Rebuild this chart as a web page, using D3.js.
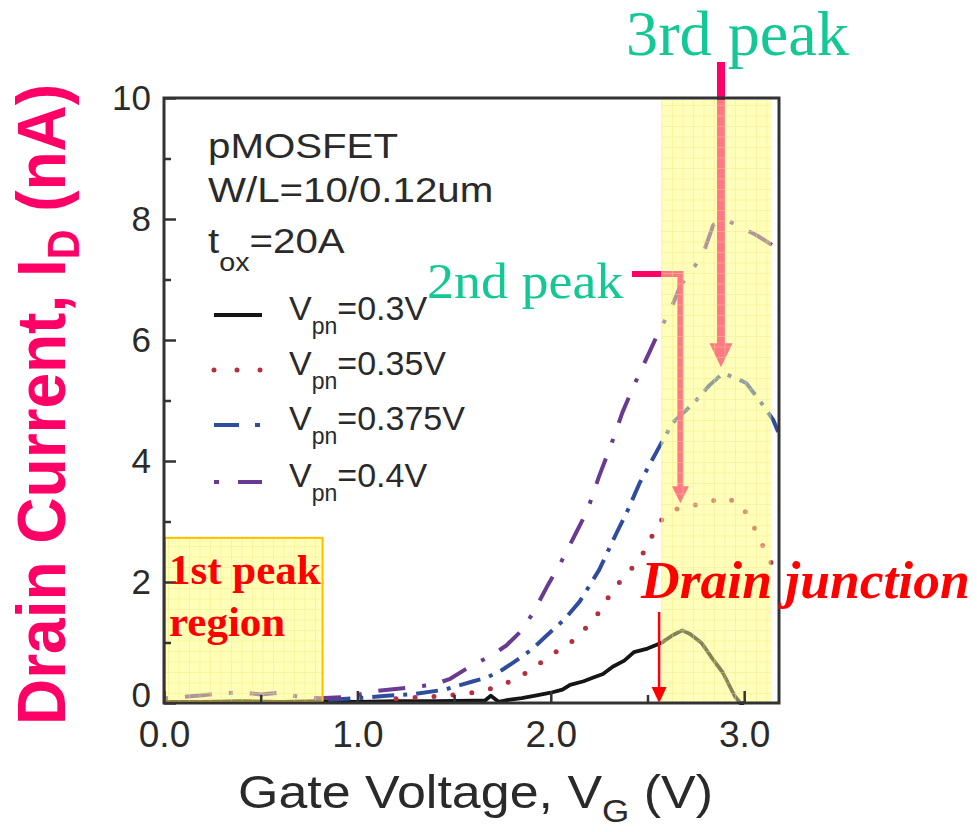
<!DOCTYPE html>
<html>
<head>
<meta charset="utf-8">
<script src="https://cdn.jsdelivr.net/npm/d3@7/dist/d3.min.js"></script>
<style>
body{margin:0;background:#fff}
svg{display:block}
</style>
</head>
<body>
<div id="chart"></div>
<script>

// data: [gate voltage V, drain current nA]
var vpn030 = [[0,0.02],[0.2,0.02],[0.4,0.03],[0.6,0.02],[0.8,0.03],[1.0,0.02],[1.2,0.03],[1.4,0.03],[1.6,0.04],[1.66,0.04],[1.69,0.12],[1.73,0.02],[1.78,0.05],[1.85,0.08],[1.92,0.12],[2.0,0.17],[2.06,0.22],[2.1,0.3],[2.17,0.36],[2.22,0.42],[2.27,0.48],[2.32,0.6],[2.38,0.7],[2.43,0.84],[2.5,0.9],[2.57,0.99],[2.63,1.12],[2.68,1.2],[2.72,1.14],[2.78,0.99],[2.83,0.76],[2.89,0.5],[2.95,0.12],[2.98,0.0],[3.0,0.0]];
var vpn035 = [[1.2,0.07],[1.3,0.09],[1.45,0.12],[1.55,0.15],[1.62,0.18],[1.72,0.26],[1.83,0.41],[1.92,0.6],[2.01,0.81],[2.1,0.99],[2.19,1.27],[2.26,1.54],[2.32,1.87],[2.4,2.15],[2.47,2.43],[2.52,2.74],[2.58,3.06],[2.67,3.24],[2.79,3.29],[2.89,3.4],[2.98,3.3],[3.04,2.98],[3.09,2.64],[3.14,2.31],[3.18,2.05]];
var vpn0375 = [[0.85,0.05],[1.0,0.08],[1.15,0.12],[1.3,0.15],[1.45,0.22],[1.6,0.36],[1.67,0.42],[1.75,0.55],[1.83,0.72],[1.9,0.88],[1.98,1.12],[2.07,1.38],[2.15,1.68],[2.25,2.2],[2.34,2.81],[2.4,3.2],[2.46,3.64],[2.56,4.23],[2.63,4.63],[2.74,4.96],[2.82,5.25],[2.89,5.45],[2.95,5.38],[3.01,5.29],[3.08,5.0],[3.15,4.68],[3.18,4.45]];
var vpn040 = [[0.0,0.08],[0.1,0.1],[0.2,0.13],[0.3,0.16],[0.4,0.18],[0.5,0.14],[0.6,0.17],[0.7,0.1],[0.8,0.08],[0.95,0.1],[1.1,0.2],[1.25,0.25],[1.39,0.3],[1.48,0.4],[1.58,0.6],[1.69,0.78],[1.77,0.95],[1.85,1.2],[1.91,1.5],[1.98,1.92],[2.05,2.31],[2.13,2.81],[2.19,3.19],[2.25,3.75],[2.31,4.25],[2.37,4.8],[2.43,5.25],[2.51,5.8],[2.56,6.15],[2.62,6.5],[2.67,6.9],[2.72,7.1],[2.79,7.45],[2.84,7.9],[2.9,8.0],[2.96,7.9],[3.06,7.74],[3.13,7.6],[3.18,7.5]];

var seriesNames = ["0.3V", "0.35V", "0.375V", "0.4V"];
var xTickValues = [0, 1, 2, 3],
    xMinorTicks = [0.5, 1.5, 2.5],
    yTickValues = [0, 2, 4, 6, 8, 10],
    yMinorTicks = [1, 3, 5, 7, 9];

var width = 977,
    height = 832;

var x = d3.scaleLinear().domain([0, 3.18]).range([164, 779]);
var y = d3.scaleLinear().domain([0, 10]).range([703, 98]);

var styles = [
    {color: "#151515", w: 3.8, dash: null, cap: "butt"},
    {color: "#b23040", w: 5, dash: "0 19", cap: "round"},
    {color: "#2f4d9c", w: 4, dash: "22 9 4 9", cap: "butt"},
    {color: "#6a3a90", w: 4, dash: "4 17 27 17", cap: "butt"}
];
var allSeries = [vpn030, vpn035, vpn0375, vpn040];

var pink = "#ff0066", teal = "#14c896";

var svg = d3.select("#chart").append("svg")
    .attr("width", width)
    .attr("height", height);

var defs = svg.append("defs");
var pat = defs.append("pattern")
    .attr("id", "grid")
    .attr("patternUnits", "userSpaceOnUse")
    .attr("width", 10.5)
    .attr("height", 10.5);
pat.append("path")
    .attr("d", "M0,0.5H10.5M0.5,0V10.5")
    .attr("stroke", "#eee27a")
    .attr("stroke-width", 1)
    .attr("fill", "none");

// highlighted regions (base fill under the curves)
var hl = {v0: 2.57, v1: 3.14};
var firstPeak = {v0: 0, v1: 0.82, i1: 2.73};

var back = svg.append("g");
back.append("rect")
    .attr("x", x(hl.v0)).attr("y", y(10) + 2)
    .attr("width", x(hl.v1) - x(hl.v0)).attr("height", y(0) - y(10) - 2)
    .attr("fill", "#ffffcc");
back.append("rect")
    .attr("x", x(firstPeak.v0)).attr("y", y(firstPeak.i1))
    .attr("width", x(firstPeak.v1) - x(firstPeak.v0)).attr("height", y(0) - y(firstPeak.i1))
    .attr("fill", "#ffffc6");

// curves
var line = d3.line().x(function(d){return x(d[0])}).y(function(d){return y(d[1])});
var curves = svg.append("g");
allSeries.forEach(function(s, i){
    curves.append("path")
        .attr("d", line(s))
        .attr("fill", "none")
        .attr("stroke", styles[i].color)
        .attr("stroke-width", styles[i].w)
        .attr("stroke-dasharray", styles[i].dash)
        .attr("stroke-linecap", styles[i].cap)
        .attr("stroke-linejoin", "round");
});

// pink peak arrows (drawn under the yellow overlay)
function arrowPath(cx, y0, yTip, sw, hw, hh){
    return "M" + (cx - sw/2) + "," + y0 + "L" + (cx + sw/2) + "," + y0 +
        "L" + (cx + sw/2) + "," + (yTip - hh) + "L" + (cx + hw/2) + "," + (yTip - hh) +
        "L" + cx + "," + yTip + "L" + (cx - hw/2) + "," + (yTip - hh) +
        "L" + (cx - sw/2) + "," + (yTip - hh) + "Z";
}
var arrows = svg.append("g");
// 3rd peak
arrows.append("path")
    .attr("d", arrowPath(x(2.88), 62, y(5.55), 8, 23, 24))
    .attr("fill", pink);
// 2nd peak
arrows.append("rect")
    .attr("x", 632).attr("y", 271)
    .attr("width", x(2.67) + 3 - 632).attr("height", 6)
    .attr("fill", pink);
arrows.append("path")
    .attr("d", arrowPath(x(2.67), 271, y(3.3), 6, 17, 17))
    .attr("fill", pink);

// overlays
var over = svg.append("g");
[[x(hl.v0), y(10) + 2, x(hl.v1) - x(hl.v0), y(0) - y(10) - 2],
 [x(firstPeak.v0), y(firstPeak.i1), x(firstPeak.v1) - x(firstPeak.v0), y(0) - y(firstPeak.i1)]]
.forEach(function(r){
    over.append("rect").attr("x", r[0]).attr("y", r[1]).attr("width", r[2]).attr("height", r[3])
        .attr("fill", "#ffffa8").attr("opacity", 0.47);
    over.append("rect").attr("x", r[0]).attr("y", r[1]).attr("width", r[2]).attr("height", r[3])
        .attr("fill", "url(#grid)").attr("opacity", 0.4);
});
over.append("rect")
    .attr("x", x(firstPeak.v0) + 1).attr("y", y(firstPeak.i1))
    .attr("width", x(firstPeak.v1) - x(firstPeak.v0) - 1).attr("height", y(0) - y(firstPeak.i1) - 1)
    .attr("fill", "none")
    .attr("stroke", "#ffbf00")
    .attr("stroke-width", 2);

// axes
var axisFont = "'Liberation Sans', Arial, sans-serif";
var gy = svg.append("g").attr("transform", "translate(" + x(0) + ",0)")
    .call(d3.axisLeft(y).tickValues(yTickValues).tickFormat(d3.format("d")).tickSize(-12).tickPadding(13));
svg.append("g").attr("transform", "translate(" + x(0) + ",0)")
    .call(d3.axisLeft(y).tickValues(yMinorTicks).tickFormat("").tickSize(-7));
var gx = svg.append("g").attr("transform", "translate(0," + y(0) + ")")
    .call(d3.axisBottom(x).tickValues(xTickValues).tickFormat(d3.format(".1f")).tickSize(-12).tickPadding(18));
svg.append("g").attr("transform", "translate(0," + y(0) + ")")
    .call(d3.axisBottom(x).tickValues(xMinorTicks).tickFormat("").tickSize(-8));
svg.selectAll(".domain").remove();
svg.selectAll(".tick line").attr("stroke", "#333").attr("stroke-width", 2.5);
gy.selectAll("text").attr("font-size", 35).attr("font-family", axisFont).attr("fill", "#2a2a2a");
gy.selectAll(".tick").filter(function(d){return d === 0}).select("text").attr("dy", "0.1em");
gx.selectAll("text").attr("font-size", 37).attr("font-family", axisFont).attr("fill", "#2a2a2a");

svg.append("rect")
    .attr("x", x(0)).attr("y", y(10))
    .attr("width", x.range()[1] - x(0)).attr("height", y(0) - y(10))
    .attr("fill", "none")
    .attr("stroke", "#333")
    .attr("stroke-width", 3);

// text with subscripts, optionally stretched horizontally
function addText(parent, tx, ty, sx, size, pieces, opt){
    opt = opt || {};
    var g = parent.append("g").attr("transform", "translate(" + tx + "," + ty + ") scale(" + sx + ",1)");
    var t = g.append("text")
        .attr("font-size", size)
        .attr("font-family", opt.family || axisFont)
        .attr("font-weight", opt.weight || "normal")
        .attr("font-style", opt.style || "normal")
        .attr("fill", opt.fill || "#2a2a2a");
    pieces.forEach(function(p){
        var ts = t.append("tspan").text(p[0]);
        if (p[1]) {
            ts.attr("font-size", p[1]).attr("dy", p[2]);
        } else if (p[2]) {
            ts.attr("dy", p[2]);
        }
    });
    return g;
}

// legend block
var legend = svg.append("g");
addText(legend, 208, 158, 1.15, 35, [["pMOSFET"]]);
addText(legend, 208, 202, 1.15, 35, [["W/L=10/0.12um"]]);
addText(legend, 208, 253, 1.15, 35, [["t"], ["ox", 25, 18], ["=20A", null, -18]]);

var rowY = [320, 375, 430, 487];
var legendDash = [null, "0 23", "25 16 5 30", "5 19 26 10"];
seriesNames.forEach(function(name, i){
    legend.append("line")
        .attr("x1", 214).attr("x2", 262)
        .attr("y1", rowY[i] - 5).attr("y2", rowY[i] - 5)
        .attr("stroke", styles[i].color)
        .attr("stroke-width", styles[i].w)
        .attr("stroke-dasharray", legendDash[i])
        .attr("stroke-linecap", styles[i].cap);
    addText(legend, 289, rowY[i], 1.0, 34, [["V"], ["pn", 23, 14], ["=" + name, null, -14]]);
});

// axis titles
addText(svg, 238, 808, 1.13, 46, [["Gate Voltage, V"], ["G", 31, 14], [" (V)", null, -14]]);

var yl = svg.append("g").attr("transform", "translate(65,725) rotate(-90) scale(1,1.07)");
var ylt = yl.append("text")
    .attr("font-size", 64)
    .attr("font-family", axisFont)
    .attr("font-weight", "bold")
    .attr("fill", pink);
ylt.append("tspan").text("Drain Current, I");
ylt.append("tspan").text("D").attr("font-size", 41).attr("dy", 13);
ylt.append("tspan").text(" (nA)").attr("dy", -13);

// annotations
var serif = "'Liberation Serif', 'Times New Roman', serif";
addText(svg, 626, 55, 1.02, 63, [["3rd peak"]], {family: serif, fill: teal});
addText(svg, 427, 298, 1.08, 50, [["2nd peak"]], {family: serif, fill: teal});
addText(svg, 169, 584, 1, 43, [["1st peak"]], {family: serif, weight: "bold", fill: "#ff0000"});
addText(svg, 169, 636, 1, 43, [["region"]], {family: serif, weight: "bold", fill: "#ff0000"});
addText(svg, 641, 598, 1.03, 52, [["Drain junction"]], {family: serif, weight: "bold", style: "italic", fill: "#ff0000"});

svg.append("path")
    .attr("d", arrowPath(x(2.56), 612, y(0), 2.5, 15, 16))
    .attr("fill", "#ff0000");

</script>
</body>
</html>
